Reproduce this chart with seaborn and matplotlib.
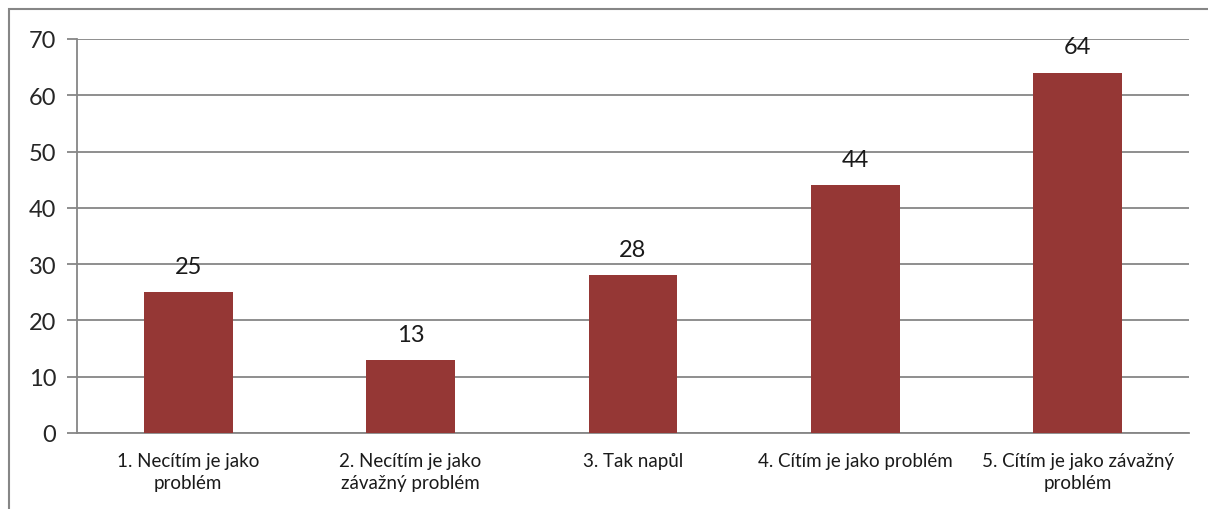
import pandas as pd
import seaborn as sns
import matplotlib.pyplot as plt
from matplotlib.patches import Rectangle

# Data
categories = [
    "1. Necítím je jako\nproblém",
    "2. Necítím je jako\nzávažný problém",
    "3. Tak napůl",
    "4. Cítím je jako problém",
    "5. Cítím je jako závažný\nproblém",
]
counts = [25, 13, 28, 44, 64]
y_ticks = [0, 10, 20, 30, 40, 50, 60, 70]

BAR_COLOR = "#953735"
GRID_COLOR = "#868686"

sns.set_style("white")
plt.rcParams["font.family"] = ["Lato", "DejaVu Sans"]

df = pd.DataFrame({"category": categories, "count": counts})

fig = plt.figure(figsize=(12.08, 5.10), dpi=100)
ax = fig.add_axes([77 / 1208, 1 - 434 / 510, (1189 - 77) / 1208, (434 - 40) / 510])

sns.barplot(data=df, x="category", y="count", color=BAR_COLOR, width=0.4,
            saturation=1, linewidth=0, ax=ax, zorder=3)

ax.set_xlim(-0.5, len(categories) - 0.5)
ax.set_ylim(0, 70)
ax.set_yticks(y_ticks)
ax.yaxis.grid(True, color=GRID_COLOR, linewidth=1.3, zorder=0)
ax.set_axisbelow(True)

# category boundary ticks
ax.set_xticks([i - 0.5 for i in range(len(categories) + 1)], minor=True)
ax.tick_params(axis="x", which="minor", length=7, width=1.3, color=GRID_COLOR)
ax.tick_params(axis="x", which="major", length=0, pad=14, labelsize=13.5, labelcolor="#1a1a1a")
ax.tick_params(axis="y", length=7, width=1.3, color=GRID_COLOR, labelsize=17, pad=8,
               left=True)
for lbl in ax.get_xticklabels():
    lbl.set_linespacing(1.35)

for side in ["top", "right"]:
    ax.spines[side].set_visible(False)
for side in ["left", "bottom"]:
    ax.spines[side].set_color(GRID_COLOR)
    ax.spines[side].set_linewidth(1.3)

ax.set_xlabel("")
ax.set_ylabel("")

# value labels
for container in ax.containers:
    ax.bar_label(container, padding=11, fontsize=17, color="#1a1a1a")

# outer chart frame (cropped on right and bottom)
frame = Rectangle((9 / 1208, -0.1), 1.2, 1 - 10 / 510 + 0.1, transform=fig.transFigure,
                  fill=False, edgecolor=GRID_COLOR, linewidth=1.5)
fig.patches.append(frame)

fig.savefig("out.png", dpi=100)
